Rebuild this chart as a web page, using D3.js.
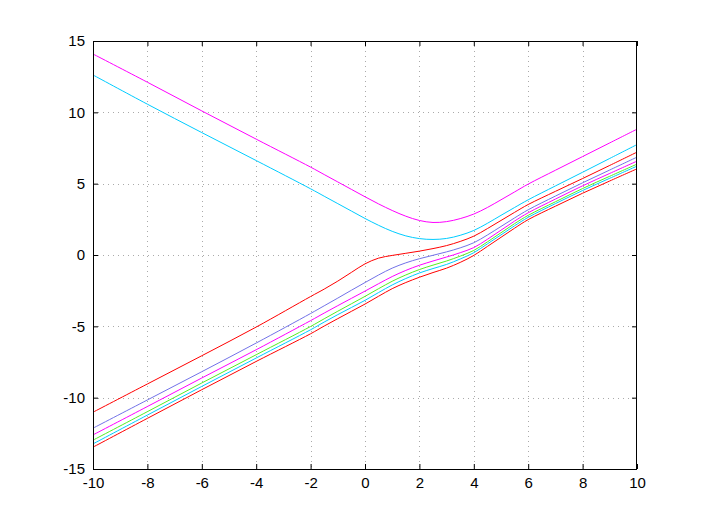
<!DOCTYPE html>
<html>
<head>
<meta charset="utf-8">
<script src="https://cdn.jsdelivr.net/npm/d3@7"></script>
<style>
  html, body { margin: 0; padding: 0; background: #fff; }
  svg { display: block; }
  text { font-family: "Liberation Sans", Arial, Helvetica, sans-serif; font-size: 15px; fill: #000; }
</style>
</head>
<body>
<svg id="chart" width="706" height="530"></svg>
<script>
// ---- data ----
const xValues = [-10, -8, -6, -4, -2, -1.5, -1, -0.5, 0, 0.5, 1, 1.5, 2, 2.5, 3, 3.5, 4, 4.5, 5, 5.5, 6, 7, 8, 9, 10];

const magentaUpper = [14.09, 12.11, 10.10, 8.12, 6.16, 5.64, 5.12, 4.60, 4.08, 3.58, 3.12, 2.72, 2.42, 2.28, 2.34, 2.55, 2.87, 3.33, 3.87, 4.42, 4.97, 5.94, 6.90, 7.86, 8.82];
const cyanUpper    = [12.62, 10.57, 8.58, 6.62, 4.64, 4.12, 3.60, 3.08, 2.56, 2.08, 1.66, 1.34, 1.15, 1.09, 1.16, 1.38, 1.72, 2.22, 2.78, 3.33, 3.87, 4.84, 5.80, 6.77, 7.74];
const redUpper     = [-11.02, -9.04, -7.06, -5.05, -2.91, -2.39, -1.83, -1.22, -0.62, -0.22, -0.03, 0.12, 0.27, 0.45, 0.66, 0.95, 1.32, 1.85, 2.42, 2.99, 3.54, 4.46, 5.36, 6.28, 7.21];
const blueLower    = [-12.14, -10.16, -8.18, -6.17, -4.10, -3.56, -3.02, -2.47, -1.93, -1.40, -0.92, -0.55, -0.26, -0.02, 0.22, 0.50, 0.86, 1.40, 2.00, 2.60, 3.17, 4.13, 5.06, 5.96, 6.86];
const magentaLower = [-12.61, -10.62, -8.62, -6.64, -4.60, -4.07, -3.55, -3.04, -2.53, -2.01, -1.51, -1.08, -0.72, -0.42, -0.14, 0.16, 0.52, 1.10, 1.74, 2.38, 2.96, 3.92, 4.85, 5.72, 6.58];
const greenLower   = [-12.98, -10.98, -8.97, -6.99, -5.01, -4.47, -3.94, -3.42, -2.90, -2.36, -1.84, -1.40, -1.02, -0.71, -0.42, -0.08, 0.32, 0.92, 1.56, 2.20, 2.78, 3.73, 4.66, 5.52, 6.37];
const cyanLower    = [-13.24, -11.22, -9.21, -7.22, -5.24, -4.70, -4.18, -3.68, -3.18, -2.63, -2.10, -1.65, -1.26, -0.95, -0.66, -0.28, 0.16, 0.78, 1.41, 2.05, 2.64, 3.60, 4.52, 5.38, 6.23];
const redLower     = [-13.47, -11.45, -9.44, -7.46, -5.52, -4.98, -4.46, -3.95, -3.44, -2.89, -2.36, -1.93, -1.56, -1.23, -0.92, -0.52, -0.03, 0.60, 1.24, 1.88, 2.48, 3.42, 4.33, 5.19, 6.04];

const seriesList = [magentaUpper, cyanUpper, redUpper, blueLower, magentaLower, greenLower, cyanLower, redLower];
const seriesColors = ["#ff00ff", "#00ccff", "#ff0000", "#7272e8", "#ff00ff", "#55ee22", "#00ccff", "#ff0000"];

const xTicks = [-10, -8, -6, -4, -2, 0, 2, 4, 6, 8, 10];
const yTicks = [-15, -10, -5, 0, 5, 10, 15];
const xDomain = [-10, 10];
const yDomain = [-15, 15];

// ---- layout ----
const plot = { left: 93, right: 637, top: 41, bottom: 469 };

const svg = d3.select("#chart");
svg.append("rect").attr("width", 706).attr("height", 530).attr("fill", "#fff");

const x = d3.scaleLinear().domain(xDomain).range([plot.left, plot.right]);
const y = d3.scaleLinear().domain(yDomain).range([plot.bottom, plot.top]);

// grid
const grid = svg.append("g").attr("stroke", "#aaa").attr("stroke-width", 1).attr("stroke-dasharray", "1,4");
xTicks.filter(t => t !== xDomain[0] && t !== xDomain[1]).forEach(t => {
  grid.append("line").attr("x1", Math.round(x(t)) + 0.5).attr("x2", Math.round(x(t)) + 0.5)
      .attr("y1", plot.top).attr("y2", plot.bottom);
});
yTicks.filter(t => t !== yDomain[0] && t !== yDomain[1]).forEach(t => {
  grid.append("line").attr("y1", Math.round(y(t)) + 0.5).attr("y2", Math.round(y(t)) + 0.5)
      .attr("x1", plot.left).attr("x2", plot.right);
});

// lines
const line = d3.line()
  .x((d, i) => x(xValues[i]))
  .y(d => y(d))
  .curve(d3.curveCatmullRom.alpha(0.5));

svg.append("clipPath").attr("id", "clip")
  .append("rect").attr("x", plot.left).attr("y", plot.top)
  .attr("width", plot.right - plot.left).attr("height", plot.bottom - plot.top);

svg.append("g").attr("clip-path", "url(#clip)")
  .selectAll("path").data(seriesList).join("path")
  .attr("d", d => line(d))
  .attr("fill", "none")
  .attr("stroke", (d, i) => seriesColors[i])
  .attr("stroke-width", 1);

// axes (ticks inward, on all four sides)
const tickLen = 5;
const fmt = d => String(d); // plain hyphen-minus like the reference
const axisBottom = d3.axisBottom(x).tickValues(xTicks).tickSize(-tickLen).tickPadding(8).tickFormat(fmt);
const axisTop = d3.axisTop(x).tickValues(xTicks).tickSize(-tickLen).tickFormat("");
const axisLeft = d3.axisLeft(y).tickValues(yTicks).tickSize(-tickLen).tickPadding(8).tickFormat(fmt);
const axisRight = d3.axisRight(y).tickValues(yTicks).tickSize(-tickLen).tickFormat("");

function styleAxis(g) {
  g.select(".domain").remove();
  g.selectAll(".tick line").attr("stroke", "#000");
  g.selectAll(".tick text").attr("fill", "#000").style("font-size", "15px")
   .style("font-family", '"Liberation Sans", Arial, Helvetica, sans-serif');
}
svg.append("g").attr("transform", `translate(0,${plot.bottom})`).call(axisBottom).call(styleAxis);
svg.append("g").attr("transform", `translate(0,${plot.top})`).call(axisTop).call(styleAxis);
svg.append("g").attr("transform", `translate(${plot.left},0)`).call(axisLeft).call(styleAxis);
svg.append("g").attr("transform", `translate(${plot.right},0)`).call(axisRight).call(styleAxis);

// box
svg.append("rect")
  .attr("x", plot.left + 0.5).attr("y", plot.top + 0.5)
  .attr("width", plot.right - plot.left - 1).attr("height", plot.bottom - plot.top)
  .attr("fill", "none").attr("stroke", "#000").attr("stroke-width", 1);
</script>
</body>
</html>
